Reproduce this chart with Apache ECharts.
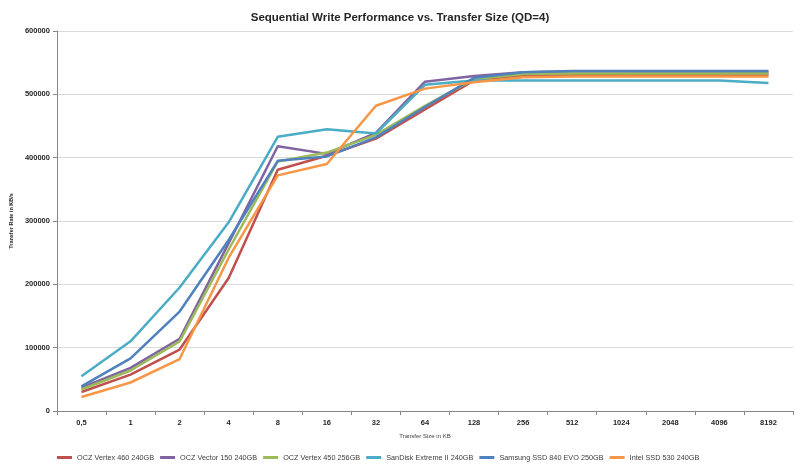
<!DOCTYPE html>
<html>
<head>
<meta charset="utf-8">
<script src="https://cdn.jsdelivr.net/npm/echarts@6/dist/echarts.min.js"></script>
<style>
  html, body { margin: 0; padding: 0; background: #fff; }
  #main { width: 800px; height: 466px; }
</style>
</head>
<body>
<div id="main"></div>
<script>
// transfer sizes on the x axis
let sizes = ['0,5', '1', '2', '4', '8', '16', '32', '64', '128', '256', '512', '1024', '2048', '4096', '8192']

let names = ['OCZ Vertex 460 240GB', 'OCZ Vector 150 240GB', 'OCZ Vertex 450 256GB',
  'SanDisk Extreme II 240GB', 'Samsung SSD 840 EVO 250GB', 'Intel SSD 530 240GB']

// KB/s
let vertex460 = [30000, 57500, 97000, 210000, 381000, 403000, 430000, 476000, 522000, 530000, 531000, 531000, 531000, 531000, 531000]
let vector150 = [37000, 68000, 114000, 265000, 418000, 406000, 439000, 520000, 529000, 535000, 536000, 536000, 535000, 535000, 535000]
let vertex450 = [34000, 64000, 110000, 255000, 394000, 408000, 436000, 482000, 524000, 532000, 533000, 533000, 533000, 533000, 533000]
let extremeII = [55000, 110000, 195000, 298000, 433000, 445000, 438000, 515000, 522000, 522000, 522000, 522000, 522000, 522000, 518000]
let evo840 = [39000, 83000, 157000, 270000, 395000, 402000, 432000, 480000, 526000, 535000, 537000, 537000, 537000, 537000, 537000]
let intel530 = [22000, 45000, 82000, 242000, 372000, 390000, 482000, 509000, 519000, 527000, 528000, 528000, 528000, 528000, 528000]

let values = [vertex460, vector150, vertex450, extremeII, evo840, intel530]
let colors = ['#C0504D', '#8064A2', '#9BBB59', '#4BACC6', '#4F81BD', '#F79646']

let font = '"Liberation Sans", sans-serif'

let Chart = echarts.init(document.getElementById('main'))

let series = []
for (let i = 0; i < names.length; i++) {
  series.push({
    name: names[i],
    type: 'line',
    data: values[i],
    showSymbol: false,
    symbol: 'none',
    animation: false,
    lineStyle: { width: 2.5, color: colors[i] },
    itemStyle: { color: colors[i] }
  })
}

let option = {
  backgroundColor: '#fff',
  title: {
    text: 'Sequential Write Performance vs. Transfer Size (QD=4)',
    left: 'center',
    top: 7,
    textStyle: { fontFamily: font, fontSize: 11.5, fontWeight: 'bold', color: '#262626' }
  },
  legend: {
    data: names,
    left: 52,
    top: 449,
    icon: 'rect',
    itemWidth: 15,
    itemHeight: 3,
    itemGap: 6,
    textStyle: { fontFamily: font, fontSize: 7.3, color: '#404040' }
  },
  grid: {
    left: 53,
    right: 7,
    top: 31,
    bottom: 55
  },
  xAxis: {
    type: 'category',
    data: sizes,
    boundaryGap: true,
    name: 'Transfer Size in KB',
    nameLocation: 'middle',
    nameGap: 22,
    nameTextStyle: { fontFamily: font, fontSize: 6, color: '#404040' },
    axisLine: { lineStyle: { color: '#868686', width: 1 } },
    axisTick: { show: true, length: 4, lineStyle: { color: '#868686' } },
    axisLabel: { fontFamily: font, fontSize: 7.5, fontWeight: 'bold', color: '#262626', margin: 8 }
  },
  yAxis: {
    type: 'value',
    min: 0,
    max: 600000,
    interval: 100000,
    name: 'Transfer Rate in KB/s',
    nameLocation: 'middle',
    nameGap: 38,
    nameTextStyle: { fontFamily: font, fontSize: 5.5, fontWeight: 'bold', color: '#262626' },
    axisLine: { show: true, lineStyle: { color: '#868686', width: 1 } },
    axisTick: { show: true, length: 4, lineStyle: { color: '#868686' } },
    axisLabel: {
      fontFamily: font, fontSize: 7.5, fontWeight: 'bold', color: '#262626', margin: 7,
      formatter: function (v) { return String(v) }
    },
    splitLine: { lineStyle: { color: '#D9D9D9', width: 1 } }
  },
  series: series
}

Chart.setOption(option)
</script>
</body>
</html>
